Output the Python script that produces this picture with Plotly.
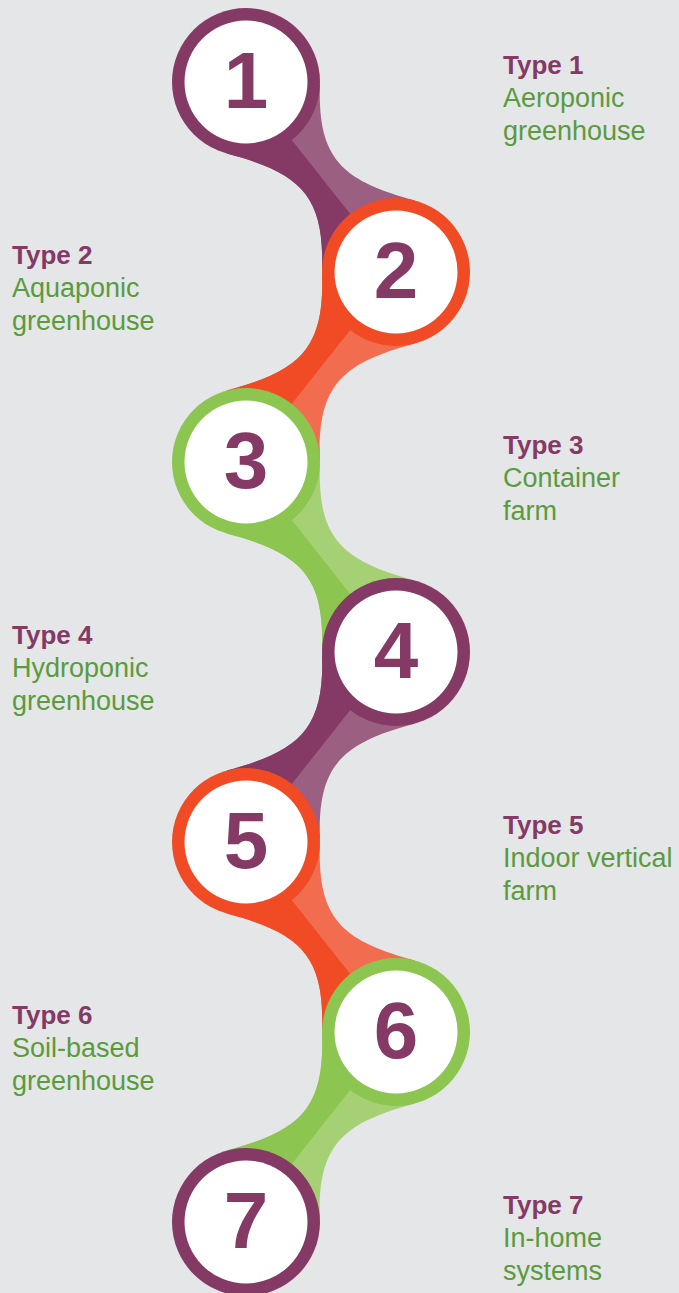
import math
import plotly.graph_objects as go

# ---------------- data ----------------
steps = [1, 2, 3, 4, 5, 6, 7]
type_labels = ["Type 1", "Type 2", "Type 3", "Type 4", "Type 5", "Type 6", "Type 7"]
descriptions = [
    ["Aeroponic", "greenhouse"],
    ["Aquaponic", "greenhouse"],
    ["Container", "farm"],
    ["Hydroponic", "greenhouse"],
    ["Indoor vertical", "farm"],
    ["Soil-based", "greenhouse"],
    ["In-home", "systems"],
]
ring_color_names = ["purple", "orange", "green", "purple", "orange", "green", "purple"]

# ---------------- style ----------------
DARK = {"purple": "#843a64", "orange": "#f04b24", "green": "#8cc54f"}
LIGHT = {"purple": "#9b5f82", "orange": "#f26c4f", "green": "#a5d174"}
BG = "#e5e6e8"
NUM_COLOR = "#843a64"
TYPE_COLOR = "#843a64"
DESC_COLOR = "#5a9b3e"
FONT = "Liberation Sans, Arial, Helvetica, sans-serif"

W, H = 679, 1293
COL_X = [246, 396]
Y0, DY = 82, 190
R_OUT, R_IN = 74, 61.5
TAN_LEN = 75
NUM_DY = 6
LABEL_X = {0: 501, 1: 10}  # circle in left column -> label on right

centers = [(COL_X[i % 2], Y0 + DY * i) for i in range(len(steps))]


def ribbon_paths(c1, c2):
    s = 1 if c2[0] >= c1[0] else -1
    dx = abs(c2[0] - c1[0])
    dy = c2[1] - c1[1]
    a0 = math.radians(105)
    a3 = math.radians(182)
    P0 = (R_OUT * math.cos(a0), R_OUT * math.sin(a0))
    t0 = (math.sin(a0), -math.cos(a0))
    P1 = (P0[0] + TAN_LEN * t0[0], P0[1] + TAN_LEN * t0[1])
    P3 = (dx + R_OUT * math.cos(a3), dy + R_OUT * math.sin(a3))
    t3 = (math.sin(a3), -math.cos(a3))
    P2 = (P3[0] - TAN_LEN * t3[0], P3[1] - TAN_LEN * t3[1])
    M = (dx / 2, dy / 2)

    def q(p):
        return (2 * M[0] - p[0], 2 * M[1] - p[1])

    def g(p):
        return (c1[0] + s * p[0], c1[1] + p[1])

    def f(p):
        p = g(p)
        return f"{p[0]:.2f},{p[1]:.2f}"

    A = [P0, P1, P2, P3]
    B = [q(P0), q(P1), q(P2), q(P3)]
    full = (f"M{f(A[0])} C{f(A[1])} {f(A[2])} {f(A[3])} L{f(B[0])} "
            f"C{f(B[1])} {f(B[2])} {f(B[3])} Z")
    c1s = f"{c1[0]},{c1[1]}"
    c2s = f"{c2[0]},{c2[1]}"
    if s == 1:
        dark = f"M{c1s} L{f(A[0])} C{f(A[1])} {f(A[2])} {f(A[3])} L{c2s} Z"
    else:
        dark = f"M{c2s} L{f(B[0])} C{f(B[1])} {f(B[2])} {f(B[3])} L{c1s} Z"
    return full, dark


shapes = []
for i in range(len(steps) - 1):
    cname = ring_color_names[i]
    full, dark = ribbon_paths(centers[i], centers[i + 1])
    shapes.append(dict(type="path", path=full, fillcolor=LIGHT[cname],
                       line=dict(width=0), layer="below"))
    shapes.append(dict(type="path", path=dark, fillcolor=DARK[cname],
                       line=dict(width=0), layer="below"))

for i, (cx, cy) in enumerate(centers):
    cname = ring_color_names[i]
    shapes.append(dict(type="circle", x0=cx - R_OUT, x1=cx + R_OUT, y0=cy - R_OUT, y1=cy + R_OUT,
                       fillcolor=DARK[cname], line=dict(width=0), layer="below"))
    shapes.append(dict(type="circle", x0=cx - R_IN, x1=cx + R_IN, y0=cy - R_IN, y1=cy + R_IN,
                       fillcolor="white", line=dict(width=0), layer="below"))

fig = go.Figure()
fig.add_trace(go.Scatter(
    x=[c[0] for c in centers],
    y=[c[1] + NUM_DY for c in centers],
    mode="text",
    text=[str(s) for s in steps],
    textposition="middle center",
    textfont=dict(family=FONT, size=80, color=NUM_COLOR, weight="bold"),
    hoverinfo="skip",
    showlegend=False,
))

annotations = []
for i, (cx, cy) in enumerate(centers):
    lx = LABEL_X[i % 2]
    annotations.append(dict(x=lx, y=cy - 17, text=f"<b>{type_labels[i]}</b>", showarrow=False,
                            xanchor="left", yanchor="middle",
                            font=dict(family=FONT, size=26, color=TYPE_COLOR)))
    for j, line in enumerate(descriptions[i]):
        annotations.append(dict(x=lx, y=cy + 16 + 33 * j, text=line, showarrow=False,
                                xanchor="left", yanchor="middle",
                                font=dict(family=FONT, size=27, color=DESC_COLOR)))

fig.update_layout(
    width=W, height=H,
    margin=dict(l=0, r=0, t=0, b=0),
    paper_bgcolor=BG, plot_bgcolor=BG,
    shapes=shapes, annotations=annotations,
    xaxis=dict(range=[0, W], visible=False, fixedrange=True),
    yaxis=dict(range=[H, 0], visible=False, fixedrange=True),
    showlegend=False,
)

fig.write_html(
    "out.html",
    config={"displayModeBar": False},
    post_script="document.body.style.margin='0';document.body.style.overflow='hidden';",
)
